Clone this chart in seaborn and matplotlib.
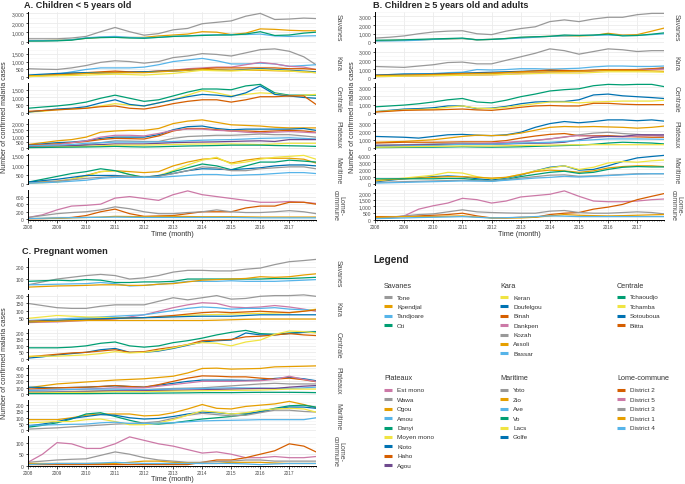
import numpy as np
import pandas as pd
import matplotlib.pyplot as plt
import seaborn as sns
from matplotlib.lines import Line2D
from matplotlib.ticker import MultipleLocator, FuncFormatter

# Time axis (decimal years, half-year steps)
TIME = [2008.0, 2008.5, 2009.0, 2009.5, 2010.0, 2010.5, 2011.0, 2011.5, 2012.0, 2012.5,
        2013.0, 2013.5, 2014.0, 2014.5, 2015.0, 2015.5, 2016.0, 2016.5, 2017.0, 2017.5, 2017.92]

# Colours per district
COLORS = {
    "Tone": "#999999", "Kpendjal": "#E69F00", "Tandjoare": "#56B4E9", "Oti": "#009E73",
    "Keran": "#F0E442", "Doufelgou": "#0072B2", "Binah": "#D55E00", "Dankpen": "#CC79A7",
    "Kozah": "#999999", "Assoli": "#E69F00", "Bassar": "#56B4E9",
    "Tchaoudjo": "#009E73", "Tchamba": "#F0E442", "Sotouboua": "#0072B2", "Blitta": "#D55E00",
    "Est mono": "#CC79A7", "Wawa": "#999999", "Ogou": "#E69F00", "Amou": "#56B4E9",
    "Danyi": "#009E73", "Moyen mono": "#F0E442", "Kloto": "#0072B2", "Haho": "#D55E00",
    "Agou": "#6F4A8E",
    "Yoto": "#999999", "Zio": "#E69F00", "Ave": "#56B4E9", "Vo": "#009E73", "Lacs": "#F0E442",
    "Golfe": "#0072B2",
    "District 2": "#D55E00", "District 5": "#CC79A7", "District 3": "#999999",
    "District 1": "#E69F00", "District 4": "#56B4E9",
}

LEGEND_GROUPS = [
    ("Savanes", ["Tone", "Kpendjal", "Tandjoare", "Oti"]),
    ("Kara", ["Keran", "Doufelgou", "Binah", "Dankpen", "Kozah", "Assoli", "Bassar"]),
    ("Centrale", ["Tchaoudjo", "Tchamba", "Sotouboua", "Blitta"]),
    ("Plateaux", ["Est mono", "Wawa", "Ogou", "Amou", "Danyi", "Moyen mono", "Kloto", "Haho", "Agou"]),
    ("Maritime", ["Yoto", "Zio", "Ave", "Vo", "Lacs", "Golfe"]),
    ("Lome-commune", ["District 2", "District 5", "District 3", "District 1", "District 4"]),
]

# ---------- A. Children < 5 years old ----------
A_SAVANES = {
    "Tone": [300, 300, 300, 380, 550, 1050, 1500, 1050, 680, 850, 1250, 1400, 1900, 2050, 2200, 2700, 3000, 2350, 2400, 2500, 2450],
    "Kpendjal": [100, 100, 130, 200, 350, 450, 450, 430, 450, 600, 700, 800, 1050, 1000, 750, 900, 1350, 1300, 1200, 1150, 1150],
    "Tandjoare": [100, 100, 120, 200, 400, 500, 550, 450, 400, 450, 550, 600, 700, 700, 750, 750, 800, 600, 550, 600, 620],
    "Oti": [50, 60, 80, 150, 350, 420, 450, 380, 350, 450, 550, 600, 650, 700, 700, 800, 1050, 650, 700, 900, 1000],
}
A_KARA = {
    "Kozah": [550, 520, 500, 600, 750, 950, 1050, 1000, 900, 1000, 1250, 1350, 1500, 1450, 1350, 1550, 1750, 1800, 1650, 1300, 800],
    "Bassar": [100, 150, 200, 350, 500, 600, 600, 600, 650, 800, 1000, 1100, 1200, 1050, 850, 850, 900, 850, 700, 750, 800],
    "Dankpen": [50, 100, 150, 200, 250, 300, 350, 350, 350, 400, 450, 550, 600, 650, 650, 800, 950, 850, 700, 650, 500],
    "Binah": [100, 150, 200, 250, 300, 350, 400, 350, 350, 400, 450, 500, 550, 600, 600, 600, 600, 600, 550, 550, 500],
    "Doufelgou": [150, 200, 250, 280, 300, 300, 300, 320, 350, 380, 400, 450, 500, 480, 450, 500, 550, 500, 450, 400, 350],
    "Assoli": [100, 120, 150, 200, 250, 280, 300, 300, 300, 350, 400, 450, 500, 480, 450, 450, 450, 420, 400, 350, 300],
    "Keran": [50, 80, 100, 120, 150, 180, 200, 180, 150, 200, 250, 350, 450, 420, 400, 450, 500, 450, 400, 350, 300],
}
A_CENTRALE = {
    "Tchaoudjo": [300, 380, 450, 550, 700, 950, 1150, 950, 750, 850, 1100, 1350, 1550, 1550, 1500, 1750, 1850, 1300, 1150, 1150, 1150],
    "Tchamba": [50, 100, 200, 250, 300, 450, 600, 500, 450, 650, 850, 1150, 1450, 1300, 1100, 1200, 1300, 1250, 1100, 1150, 1200],
    "Sotouboua": [50, 150, 250, 300, 400, 650, 850, 550, 450, 650, 850, 1050, 1200, 1150, 1050, 1300, 1750, 1200, 1100, 1000, 950],
    "Blitta": [100, 150, 200, 250, 300, 400, 450, 300, 250, 400, 600, 750, 850, 850, 700, 850, 1050, 1050, 1100, 1100, 550],
}
A_PLATEAUX = {
    "Ogou": [300, 450, 600, 700, 900, 1300, 1400, 1450, 1450, 1600, 2000, 2200, 2300, 2100, 1900, 1850, 1800, 1700, 1650, 1650, 1650],
    "Kloto": [250, 350, 450, 500, 600, 800, 900, 900, 900, 1100, 1500, 1750, 1800, 1600, 1500, 1550, 1550, 1550, 1550, 1600, 1450],
    "Haho": [250, 300, 350, 450, 550, 700, 800, 780, 750, 1000, 1400, 1600, 1600, 1500, 1400, 1400, 1350, 1400, 1450, 1400, 1300],
    "Est mono": [200, 250, 300, 450, 600, 900, 1050, 1050, 1000, 1200, 1450, 1550, 1550, 1450, 1400, 1300, 1250, 1300, 1350, 1300, 1250],
    "Wawa": [100, 120, 150, 200, 300, 450, 600, 580, 550, 550, 800, 950, 1000, 1050, 1050, 1100, 1150, 1100, 1100, 1000, 900],
    "Amou": [200, 220, 250, 300, 400, 450, 500, 500, 500, 520, 550, 600, 650, 680, 700, 750, 800, 820, 850, 800, 750],
    "Agou": [100, 120, 150, 200, 250, 300, 350, 350, 350, 400, 450, 480, 500, 520, 550, 580, 600, 550, 700, 700, 700],
    "Moyen mono": [50, 80, 100, 120, 150, 200, 250, 250, 250, 280, 300, 330, 350, 350, 350, 330, 300, 350, 400, 400, 400],
    "Danyi": [50, 60, 80, 90, 100, 120, 150, 120, 100, 120, 150, 180, 200, 220, 250, 250, 250, 220, 200, 180, 150],
}
A_MARITIME = {
    "Zio": [100, 120, 150, 250, 450, 650, 700, 650, 600, 650, 950, 1150, 1300, 1350, 1100, 1250, 1350, 1350, 1350, 1300, 1100],
    "Lacs": [50, 70, 100, 250, 400, 650, 700, 500, 350, 450, 700, 1000, 1250, 1400, 1050, 1150, 1300, 1400, 1450, 1500, 1300],
    "Vo": [100, 250, 400, 550, 650, 800, 700, 500, 350, 400, 650, 850, 1050, 950, 750, 950, 1150, 1150, 1250, 1200, 1150],
    "Golfe": [100, 180, 250, 350, 450, 450, 450, 400, 350, 450, 550, 700, 800, 780, 750, 800, 850, 950, 1000, 1000, 950],
    "Yoto": [50, 100, 150, 220, 300, 350, 400, 400, 350, 400, 550, 700, 900, 850, 700, 700, 800, 850, 900, 900, 800],
    "Ave": [50, 70, 100, 150, 200, 300, 350, 350, 350, 350, 400, 450, 500, 500, 450, 480, 500, 550, 600, 600, 550],
}
A_LOME = {
    "District 5": [50, 120, 250, 350, 370, 400, 560, 600, 550, 500, 650, 750, 650, 600, 550, 500, 450, 450, 470, 450, 420],
    "District 2": [20, 20, 30, 50, 100, 200, 270, 150, 80, 90, 100, 150, 200, 200, 200, 300, 350, 350, 450, 450, 400],
    "District 3": [50, 100, 150, 180, 200, 250, 330, 280, 200, 150, 150, 180, 200, 250, 200, 180, 180, 200, 230, 200, 150],
    "District 1": [20, 25, 30, 40, 50, 60, 80, 75, 70, 75, 80, 75, 70, 70, 70, 65, 60, 60, 60, 60, 60],
    "District 4": [20, 30, 40, 45, 50, 55, 60, 55, 50, 50, 50, 50, 50, 50, 50, 45, 40, 40, 40, 40, 40],
}

# ---------- B. Children >= 5 years old and adults ----------
B_SAVANES = {
    "Tone": [500, 600, 750, 1000, 1200, 1300, 1350, 1000, 900, 1300, 1600, 1800, 2400, 2600, 2400, 2700, 2900, 2900, 3200, 3350, 3350],
    "Kpendjal": [200, 220, 250, 300, 350, 400, 450, 300, 350, 450, 550, 650, 700, 750, 750, 800, 1050, 850, 900, 1300, 1650],
    "Tandjoare": [150, 170, 200, 250, 350, 400, 450, 300, 350, 420, 500, 600, 700, 750, 800, 820, 850, 800, 800, 900, 1000],
    "Oti": [250, 270, 300, 350, 400, 450, 500, 300, 350, 450, 600, 650, 700, 850, 800, 850, 950, 750, 800, 950, 1100],
}
B_KARA = {
    "Kozah": [1300, 1250, 1200, 1350, 1500, 1750, 1800, 1600, 1600, 2000, 2400, 2800, 3300, 3100, 2700, 3000, 3300, 3200, 3000, 3100, 3100],
    "Bassar": [350, 380, 400, 450, 500, 600, 650, 950, 900, 950, 1050, 1050, 1000, 1050, 1100, 1250, 1350, 1350, 1300, 1300, 1350],
    "Doufelgou": [300, 380, 450, 450, 450, 500, 550, 600, 650, 700, 750, 800, 850, 820, 800, 850, 900, 920, 950, 1000, 1100],
    "Binah": [300, 300, 300, 350, 400, 450, 500, 520, 550, 620, 700, 800, 900, 850, 800, 900, 950, 950, 950, 1050, 1150],
    "Dankpen": [150, 170, 200, 220, 250, 280, 300, 320, 350, 420, 500, 580, 650, 680, 700, 780, 850, 850, 850, 950, 1000],
    "Assoli": [250, 270, 300, 320, 350, 400, 450, 480, 500, 580, 650, 680, 700, 720, 750, 800, 850, 850, 850, 800, 750],
    "Keran": [150, 170, 200, 220, 250, 280, 300, 320, 350, 400, 450, 500, 550, 550, 550, 620, 700, 700, 700, 680, 650],
}
B_CENTRALE = {
    "Tchaoudjo": [750, 850, 950, 1100, 1300, 1550, 1700, 1300, 1200, 1500, 1900, 2200, 2550, 2700, 2800, 3150, 3300, 3250, 3300, 3300, 3050],
    "Sotouboua": [200, 350, 500, 550, 650, 850, 850, 550, 600, 800, 1100, 1300, 1350, 1350, 1550, 2100, 2200, 2000, 1900, 1800, 1700],
    "Tchamba": [200, 300, 400, 450, 500, 700, 850, 600, 550, 700, 900, 1100, 1300, 1300, 1200, 1300, 1350, 1400, 1400, 1400, 1500],
    "Blitta": [150, 250, 350, 380, 400, 450, 500, 400, 350, 500, 700, 850, 900, 850, 850, 1150, 1150, 1050, 1000, 1000, 1000],
}
B_PLATEAUX = {
    "Kloto": [1400, 1350, 1300, 1200, 1400, 1600, 1650, 1550, 1500, 1600, 1900, 2500, 2950, 3200, 3050, 3200, 3400, 3400, 3300, 3400, 3250],
    "Ogou": [700, 750, 800, 900, 1000, 1200, 1400, 1550, 1500, 1550, 1800, 2150, 2500, 2600, 2550, 2600, 2550, 2500, 2400, 2500, 2650],
    "Haho": [600, 650, 700, 700, 700, 720, 750, 750, 750, 900, 1200, 1450, 1650, 1750, 1500, 1500, 1500, 1400, 1350, 1300, 1300],
    "Wawa": [350, 380, 400, 450, 500, 550, 600, 550, 500, 600, 750, 900, 1100, 1300, 1600, 1800, 1900, 1750, 1650, 1550, 1450],
    "Est mono": [200, 250, 300, 350, 400, 450, 500, 550, 600, 700, 800, 950, 1100, 1350, 1500, 1450, 1400, 1350, 1450, 1500, 1450],
    "Agou": [300, 320, 350, 380, 400, 420, 450, 450, 450, 500, 550, 580, 600, 700, 1000, 1300, 1400, 1400, 1600, 1600, 1600],
    "Amou": [200, 220, 250, 280, 300, 380, 450, 450, 450, 520, 600, 650, 700, 800, 900, 1000, 1100, 1100, 1100, 1080, 1050],
    "Danyi": [50, 60, 80, 90, 100, 120, 150, 120, 100, 120, 150, 200, 250, 300, 350, 450, 600, 700, 650, 600, 500],
    "Moyen mono": [100, 120, 150, 180, 200, 220, 250, 250, 250, 280, 300, 330, 350, 380, 400, 400, 400, 400, 400, 400, 400],
}
B_MARITIME = {
    "Golfe": [250, 500, 700, 850, 1000, 1100, 1000, 700, 550, 800, 1200, 1800, 2300, 2500, 1900, 2000, 2500, 3100, 3600, 3800, 3950],
    "Lacs": [400, 600, 800, 1000, 1200, 1600, 1500, 1000, 700, 900, 1300, 1800, 2200, 2500, 2000, 2300, 2900, 3100, 3000, 3200, 3300],
    "Zio": [500, 600, 700, 800, 900, 1000, 1000, 900, 800, 900, 1300, 1700, 1900, 1800, 1600, 1800, 2200, 2400, 2500, 2500, 2400],
    "Vo": [700, 700, 700, 700, 700, 750, 750, 550, 400, 600, 1000, 1300, 1600, 1750, 1450, 1600, 2000, 2300, 2400, 2350, 2350],
    "Yoto": [200, 250, 300, 350, 400, 450, 500, 450, 400, 550, 800, 1000, 1200, 1250, 1050, 1100, 1200, 1300, 1400, 1400, 1400],
    "Ave": [100, 150, 200, 250, 300, 350, 400, 380, 350, 500, 650, 800, 900, 1050, 950, 1050, 1150, 1250, 1350, 1400, 1400],
}
B_LOME = {
    "District 5": [100, 150, 300, 800, 1050, 1250, 1600, 1500, 1250, 1400, 1700, 1800, 1900, 2150, 1750, 1400, 1350, 1350, 1400, 1500, 1550],
    "District 2": [250, 250, 250, 300, 350, 400, 500, 300, 150, 150, 200, 200, 400, 500, 550, 800, 950, 1150, 1500, 1750, 1950],
    "District 3": [150, 200, 300, 400, 450, 600, 750, 600, 550, 520, 500, 500, 650, 700, 550, 500, 500, 550, 600, 550, 450],
    "District 1": [200, 220, 250, 250, 250, 280, 300, 220, 150, 150, 150, 200, 300, 400, 350, 320, 300, 320, 350, 380, 400],
    "District 4": [100, 120, 150, 180, 200, 220, 250, 200, 150, 170, 200, 250, 300, 280, 250, 250, 250, 250, 250, 250, 250],
}

# ---------- C. Pregnant women ----------
C_SAVANES = {
    "Tone": [50, 75, 100, 115, 130, 140, 130, 100, 110, 130, 160, 175, 175, 170, 170, 185, 195, 225, 250, 260, 270],
    "Oti": [80, 85, 90, 85, 95, 90, 70, 70, 75, 75, 80, 100, 100, 100, 100, 100, 100, 105, 105, 110, 115],
    "Tandjoare": [50, 52, 55, 58, 60, 70, 60, 40, 45, 55, 65, 80, 80, 80, 85, 80, 80, 80, 85, 90, 95],
    "Kpendjal": [30, 35, 40, 42, 45, 50, 50, 45, 45, 55, 60, 75, 90, 95, 100, 105, 120, 115, 120, 135, 145],
}
C_KARA = {
    "Kozah": [150, 135, 120, 115, 115, 130, 140, 140, 140, 165, 190, 175, 190, 205, 180, 185, 200, 205, 205, 210, 200],
    "Dankpen": [15, 18, 20, 25, 30, 35, 40, 55, 70, 95, 120, 140, 155, 150, 125, 120, 125, 135, 125, 110, 95],
    "Bassar": [30, 35, 40, 45, 50, 55, 60, 65, 70, 85, 100, 115, 125, 120, 110, 115, 115, 120, 110, 105, 105],
    "Keran": [45, 55, 65, 60, 55, 52, 50, 50, 50, 55, 60, 65, 70, 72, 75, 78, 80, 82, 85, 95, 110],
    "Binah": [25, 28, 30, 32, 35, 40, 45, 48, 50, 58, 65, 75, 85, 90, 85, 90, 95, 90, 85, 95, 105],
    "Doufelgou": [20, 25, 30, 35, 40, 42, 45, 48, 50, 52, 55, 58, 60, 60, 60, 65, 70, 70, 70, 70, 70],
    "Assoli": [20, 22, 25, 28, 30, 30, 30, 30, 30, 30, 30, 30, 30, 32, 35, 38, 40, 40, 40, 40, 40],
}
C_CENTRALE = {
    "Tchaoudjo": [85, 85, 85, 90, 100, 120, 130, 100, 90, 100, 125, 140, 160, 185, 205, 220, 195, 190, 200, 205, 210],
    "Sotouboua": [5, 15, 30, 40, 50, 70, 80, 50, 50, 60, 80, 105, 130, 140, 145, 200, 185, 185, 195, 205, 205],
    "Blitta": [15, 25, 35, 45, 50, 60, 70, 50, 55, 75, 90, 110, 140, 145, 150, 170, 175, 185, 195, 185, 180],
    "Tchamba": [20, 20, 20, 25, 30, 40, 55, 45, 50, 65, 85, 110, 125, 120, 100, 130, 145, 190, 215, 210, 200],
}
C_PLATEAUX = {
    "Ogou": [100, 130, 160, 175, 190, 205, 220, 230, 240, 260, 280, 330, 400, 405, 390, 395, 400, 425, 430, 435, 440],
    "Kloto": [110, 105, 100, 105, 110, 120, 130, 120, 110, 140, 170, 200, 220, 220, 220, 215, 220, 245, 260, 240, 210],
    "Haho": [80, 90, 100, 105, 110, 120, 135, 120, 110, 150, 200, 250, 285, 280, 270, 270, 250, 235, 250, 225, 195],
    "Est mono": [60, 65, 70, 75, 80, 90, 100, 100, 100, 125, 150, 175, 200, 200, 200, 205, 210, 230, 280, 230, 200],
    "Wawa": [40, 40, 40, 45, 50, 55, 60, 65, 70, 80, 90, 95, 100, 115, 130, 145, 160, 170, 160, 160, 160],
    "Amou": [60, 65, 70, 75, 80, 80, 80, 75, 70, 75, 80, 85, 90, 95, 100, 98, 95, 92, 90, 100, 110],
    "Agou": [20, 25, 30, 35, 40, 45, 50, 52, 55, 58, 60, 65, 70, 75, 80, 85, 90, 90, 110, 125, 135],
    "Moyen mono": [20, 22, 25, 28, 30, 35, 40, 40, 40, 45, 50, 52, 55, 58, 60, 62, 65, 72, 80, 80, 80],
    "Danyi": [10, 10, 10, 10, 10, 12, 15, 15, 15, 18, 20, 22, 25, 25, 25, 28, 30, 30, 30, 28, 25],
}
C_MARITIME = {
    "Zio": [85, 85, 85, 100, 120, 130, 130, 130, 115, 120, 140, 170, 205, 175, 170, 190, 200, 210, 230, 205, 180],
    "Vo": [25, 40, 60, 90, 130, 140, 110, 80, 55, 50, 60, 75, 90, 100, 110, 125, 150, 175, 195, 200, 185],
    "Golfe": [35, 50, 70, 95, 110, 125, 120, 100, 90, 95, 110, 130, 145, 140, 130, 135, 145, 170, 185, 185, 175],
    "Yoto": [10, 15, 20, 28, 35, 42, 50, 55, 60, 70, 95, 120, 135, 125, 115, 120, 140, 160, 160, 150, 145],
    "Lacs": [60, 65, 70, 70, 85, 90, 70, 45, 45, 60, 85, 120, 155, 145, 130, 140, 160, 170, 175, 170, 145],
    "Ave": [40, 42, 45, 48, 50, 60, 65, 55, 55, 58, 60, 68, 75, 78, 80, 82, 85, 85, 85, 85, 100],
}
C_LOME = {
    "District 5": [15, 50, 100, 95, 75, 75, 95, 125, 110, 95, 85, 70, 55, 60, 50, 35, 35, 40, 35, 35, 40],
    "District 2": [5, 5, 5, 5, 5, 5, 5, 5, 5, 5, 5, 5, 15, 25, 25, 35, 50, 65, 95, 85, 60],
    "District 3": [15, 20, 25, 28, 30, 45, 60, 50, 35, 25, 20, 15, 15, 18, 20, 25, 25, 20, 20, 20, 20],
    "District 1": [10, 10, 10, 10, 10, 10, 10, 15, 20, 20, 15, 12, 10, 10, 15, 15, 15, 12, 10, 10, 10],
    "District 4": [5, 8, 10, 10, 10, 12, 15, 12, 10, 10, 10, 10, 10, 10, 10, 8, 5, 8, 10, 10, 10],
}

REGIONS = ["Savanes", "Kara", "Centrale", "Plateaux", "Maritime", "Lome-\ncommune"]
A_DATA = [A_SAVANES, A_KARA, A_CENTRALE, A_PLATEAUX, A_MARITIME, A_LOME]
B_DATA = [B_SAVANES, B_KARA, B_CENTRALE, B_PLATEAUX, B_MARITIME, B_LOME]
C_DATA = [C_SAVANES, C_KARA, C_CENTRALE, C_PLATEAUX, C_MARITIME, C_LOME]
A_STEPS = [1000, 500, 500, 500, 500, 200]
B_STEPS = [1000, 1000, 1000, 1000, 1000, 500]
C_STEPS = [100, 50, 50, 100, 50, 50]

# Style
sns.set_style("white")
plt.rcParams["font.family"] = ["Liberation Sans", "DejaVu Sans"]

W, H = 685, 485
fig = plt.figure(figsize=(W / 100, H / 100), dpi=100)
TXT = "#4D4D4D"


def draw_panel(left, right, top, bottom, data, steps, strip_off, ylab_x):
    gap = 5
    h = (bottom - top - gap * 5) / 6
    for i, (region, series, step) in enumerate(zip(REGIONS, data, steps)):
        t = top + i * (h + gap)
        ax = fig.add_axes([left / W, 1 - (t + h) / H, (right - left) / W, h / H])
        df = pd.DataFrame(series, index=TIME).reset_index(names="time")
        df = df.melt(id_vars="time", var_name="district", value_name="cases")
        sns.lineplot(data=df, x="time", y="cases", hue="district", palette=COLORS,
                     estimator=None, legend=False, linewidth=0.9, ax=ax)
        ax.set_xlim(2008, 2017.92)
        ax.margins(y=0.05)
        ax.set_xlabel("")
        ax.set_ylabel("")
        ax.xaxis.set_major_locator(MultipleLocator(1))
        ax.yaxis.set_major_locator(MultipleLocator(step))
        ax.yaxis.set_minor_locator(MultipleLocator(step / 2))
        ax.yaxis.set_major_formatter(FuncFormatter(lambda v, p: f"{v:,.0f}"))
        ax.grid(which="major", color="#EBEBEB", linewidth=0.6)
        ax.grid(which="minor", axis="y", color="#F3F3F3", linewidth=0.4)
        ax.set_axisbelow(True)
        for s in ["top", "right"]:
            ax.spines[s].set_visible(False)
        ax.spines["left"].set_color("black")
        ax.spines["left"].set_linewidth(0.7)
        ax.tick_params(axis="y", which="major", labelsize=3.6, length=1.8, width=0.5,
                       pad=1, labelcolor=TXT, color="black", left=True)
        ax.tick_params(axis="y", which="minor", length=0)
        if i < 5:
            ax.spines["bottom"].set_visible(False)
            ax.tick_params(axis="x", which="both", length=0, labelbottom=False)
        else:
            ax.spines["bottom"].set_color("black")
            ax.spines["bottom"].set_linewidth(0.7)
            ax.xaxis.set_minor_locator(MultipleLocator(1 / 12))
            ax.tick_params(axis="x", which="major", labelsize=3.4, length=1.8, width=0.5,
                           pad=1, labelcolor=TXT, color="black", bottom=True)
            ax.tick_params(axis="x", which="minor", length=1.0, width=0.4,
                           color="black", bottom=True)
        fig.text((right + strip_off) / W, 1 - (t + h / 2) / H, region, rotation=270,
                 ha="center", va="center", fontsize=5, color=TXT, linespacing=0.9)
    fig.text(ylab_x / W, 1 - (top + bottom) / 2 / H, "Number of confirmed malaria cases",
             rotation=90, ha="center", va="center", fontsize=5, color="#333333")
    fig.text((left + right) / 2 / W, 1 - (bottom + 13) / H, "Time (month)",
             ha="center", va="center", fontsize=5.2, color="#333333")


draw_panel(28, 316, 13, 221, A_DATA, A_STEPS, 22, 5)
draw_panel(375, 664, 13, 221, B_DATA, B_STEPS, 12, 352)
draw_panel(28, 316, 259, 467, C_DATA, C_STEPS, 22, 5)

fig.text(24 / W, 1 - 5 / H, "A. Children < 5 years old", fontsize=6.6,
         fontweight="bold", va="center", ha="left")
fig.text(373 / W, 1 - 5 / H, "B. Children \u2265 5 years old and adults", fontsize=6.6,
         fontweight="bold", va="center", ha="left")
fig.text(22 / W, 1 - 251 / H, "C. Pregnant women", fontsize=6.6,
         fontweight="bold", va="center", ha="left")

# Legend
fig.text(373 / W, 1 - 260 / H, "Legend", fontsize=7.2, fontweight="bold",
         va="center", ha="left")
col_x = [384, 500, 617]
row_y = [286, 379]
for k, (group, names) in enumerate(LEGEND_GROUPS):
    gx = col_x[k % 3]
    gy = row_y[k // 3]
    fig.text(gx / W, 1 - gy / H, group, fontsize=5.2, color="#333333",
             va="center", ha="left")
    for j, name in enumerate(names):
        ey = gy + 12 + j * 9.4
        fig.add_artist(Line2D([gx / W, (gx + 8) / W], [1 - ey / H, 1 - ey / H],
                              color=COLORS[name], linewidth=2.2,
                              transform=fig.transFigure, solid_capstyle="butt"))
        fig.text((gx + 13) / W, 1 - ey / H, name, fontsize=4.6, color="#333333",
                 va="center", ha="left")

fig.savefig("out.png", dpi=100)
